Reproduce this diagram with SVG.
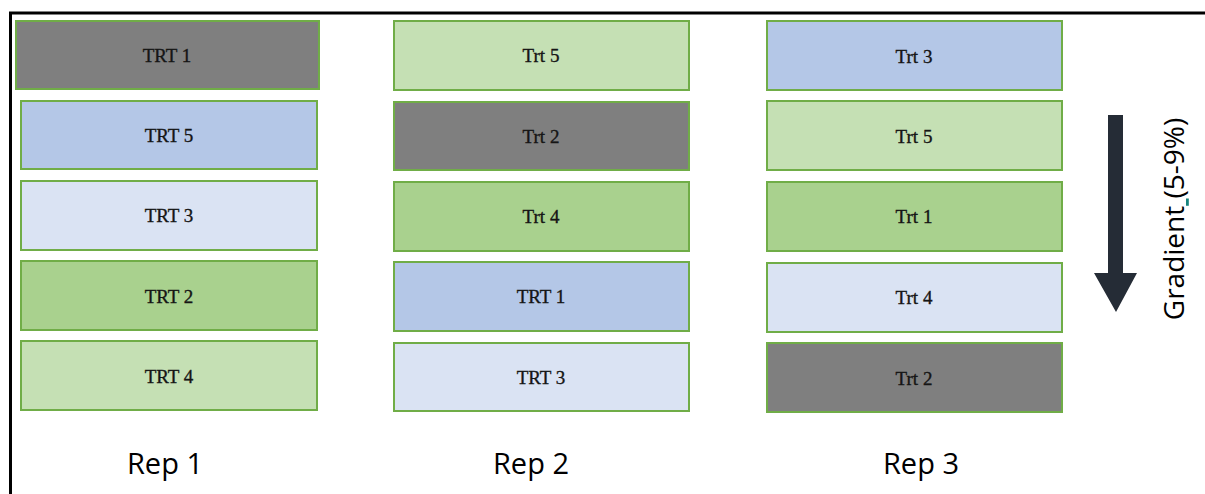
<svg xmlns="http://www.w3.org/2000/svg" width="1205" height="494" viewBox="0 0 1205 494">
<style>
.b{stroke:#70ad47;stroke-width:2}
.g{fill:#7f7f7f}.bl{fill:#b4c7e7}.lb{fill:#dae3f3}.gr{fill:#a9d18e}.lg{fill:#c5e0b4}
.t{font-family:"Liberation Serif",serif;font-size:19px;fill:#151515;stroke:#151515;stroke-width:0.35;text-anchor:middle}
.rep{font-family:"Open Sans",sans-serif;font-size:29px;fill:#000;text-anchor:middle}
</style>
<rect width="1205" height="494" fill="#fff"/>
<g id="frame" fill="none" stroke="#000" stroke-width="3">
<path d="M10.5 494V13H1205"/>
</g>
<g id="r1t1"><rect class="b g" x="16" y="21" width="303" height="68"/><text class="t" x="167" y="62">TRT 1</text></g>
<g id="r1t5"><rect class="b bl" x="21" y="101" width="296" height="68"/><text class="t" x="169" y="142">TRT 5</text></g>
<g id="r1t3"><rect class="b lb" x="21" y="181" width="296" height="69"/><text class="t" x="169" y="222">TRT 3</text></g>
<g id="r1t2"><rect class="b gr" x="21" y="261" width="296" height="69"/><text class="t" x="169" y="303">TRT 2</text></g>
<g id="r1t4"><rect class="b lg" x="21" y="341" width="296" height="69"/><text class="t" x="169" y="383">TRT 4</text></g>

<g id="r2t5"><rect class="b lg" x="394" y="21" width="295" height="69"/><text class="t" x="541" y="62">Trt 5</text></g>
<g id="r2t2"><rect class="b g" x="394" y="102" width="295" height="68"/><text class="t" x="541" y="143">Trt 2</text></g>
<g id="r2t4"><rect class="b gr" x="394" y="182" width="295" height="69"/><text class="t" x="541" y="223">Trt 4</text></g>
<g id="r2t1"><rect class="b bl" x="394" y="262" width="295" height="69"/><text class="t" x="541" y="303">TRT 1</text></g>
<g id="r2t3"><rect class="b lb" x="394" y="343" width="295" height="68"/><text class="t" x="541" y="384">TRT 3</text></g>

<g id="r3t3"><rect class="b bl" x="767" y="21" width="295" height="69"/><text class="t" x="914" y="63">Trt 3</text></g>
<g id="r3t5"><rect class="b lg" x="767" y="101" width="295" height="69"/><text class="t" x="914" y="143">Trt 5</text></g>
<g id="r3t1"><rect class="b gr" x="767" y="182" width="295" height="69"/><text class="t" x="914" y="223">Trt 1</text></g>
<g id="r3t4"><rect class="b lb" x="767" y="263" width="295" height="69"/><text class="t" x="914" y="304">Trt 4</text></g>
<g id="r3t2"><rect class="b g" x="767" y="343" width="295" height="69"/><text class="t" x="914" y="385">Trt 2</text></g>

<g id="labels">
<text class="rep" x="165" y="474">Rep 1</text>
<text class="rep" x="531" y="474">Rep 2</text>
<text class="rep" x="921" y="474">Rep 3</text>
</g>
<g id="gradient">
<path d="M1108 115H1123V273H1137L1116 312L1094 273H1108Z" fill="#252c36"/>
<text font-family="Open Sans,sans-serif" font-size="28" fill="#000" text-anchor="middle" transform="translate(1184 219) rotate(-90)">Gradient<tspan fill="#17847e" style="text-decoration:underline"> </tspan>(5-9%)</text>
</g>
</svg>
